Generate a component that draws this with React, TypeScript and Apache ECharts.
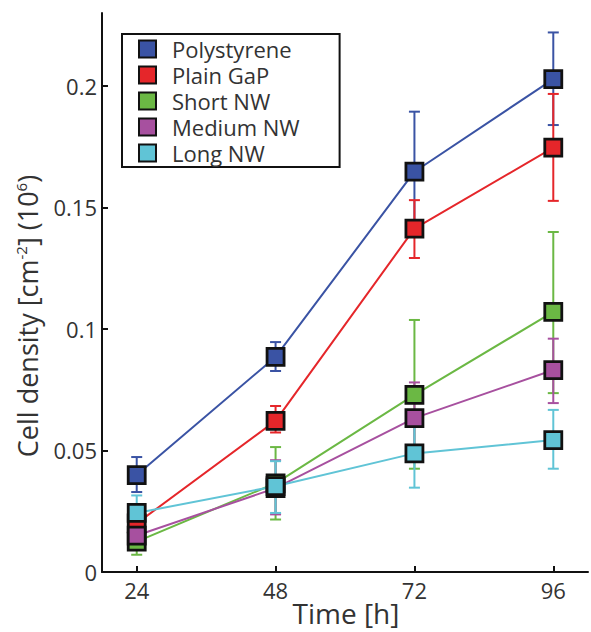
import React, { useEffect, useRef } from "react";
import * as echarts from "echarts";

const hours = [24, 48, 72, 96];
const seriesNames = ["Polystyrene", "Plain GaP", "Short NW", "Medium NW", "Long NW"];
const seriesColors = ["#3A53A4", "#E5262A", "#6BB844", "#A7509F", "#60C4D6"];

const polyMean = [0.0399, 0.0885, 0.1647, 0.2028];
const polyLow = [0.0329, 0.0827, 0.14, 0.1839];
const polyHigh = [0.0473, 0.0946, 0.1894, 0.222];

const gapMean = [0.02, 0.0622, 0.1413, 0.1746];
const gapLow = [0.017, 0.0574, 0.1292, 0.1527];
const gapHigh = [0.023, 0.0683, 0.153, 0.1967];

const shortMean = [0.0125, 0.0365, 0.0729, 0.107];
const shortLow = [0.0071, 0.0216, 0.0425, 0.0736];
const shortHigh = [0.018, 0.0514, 0.1037, 0.1399];

const mediumMean = [0.015, 0.0345, 0.0633, 0.0831];
const mediumLow = [0.012, 0.0237, 0.049, 0.0695];
const mediumHigh = [0.018, 0.046, 0.078, 0.096];

const longMean = [0.0243, 0.0353, 0.0488, 0.0543];
const longLow = [0.018, 0.0243, 0.0347, 0.0425];
const longHigh = [0.0315, 0.0456, 0.063, 0.0667];

const yTicks = [0, 0.05, 0.1, 0.15, 0.2];
const yTickLabels = ["0", "0.05", "0.1", "0.15", "0.2"];

const means = [polyMean, gapMean, shortMean, mediumMean, longMean];
const lows = [polyLow, gapLow, shortLow, mediumLow, longLow];
const highs = [polyHigh, gapHigh, shortHigh, mediumHigh, longHigh];

const FONT = "'Open Sans', 'Noto Sans', sans-serif";

export default function App() {
  const ref = useRef<HTMLDivElement>(null);
  useEffect(() => {
    document.body.style.margin = "0";
    const chart = echarts.init(ref.current!, null, { renderer: "svg" });
    const series: any[] = [];
    seriesNames.forEach((name, i) => {
      const color = seriesColors[i];
      series.push({
        name: name + " error",
        type: "custom",
        data: hours.map((h, j) => [h, lows[i][j], highs[i][j]]),
        encode: { x: 0, y: [1, 2] },
        renderItem: (params: any, api: any) => {
          const x = api.value(0);
          const top = api.coord([x, api.value(2)]);
          const bot = api.coord([x, api.value(1)]);
          const w = 5.5;
          const st = { stroke: color, lineWidth: 2 };
          return {
            type: "group",
            children: [
              { type: "line", shape: { x1: top[0], y1: top[1], x2: bot[0], y2: bot[1] }, style: st },
              { type: "line", shape: { x1: top[0] - w, y1: top[1], x2: top[0] + w, y2: top[1] }, style: st },
              { type: "line", shape: { x1: bot[0] - w, y1: bot[1], x2: bot[0] + w, y2: bot[1] }, style: st },
            ],
          };
        },
      });
      series.push({
        name,
        type: "line",
        data: hours.map((h, j) => [h, means[i][j]]),
        symbol: "rect",
        symbolSize: 17,
        lineStyle: { color, width: 2 },
        itemStyle: { color, borderColor: "#111", borderWidth: 2.8 },
      });
    });
    chart.setOption({
      animation: false,
      grid: { left: 102, right: 3, top: 13, bottom: 60 },
      legend: {
        data: seriesNames,
        orient: "vertical",
        left: 122,
        top: 34,
        icon: "rect",
        itemWidth: 17,
        itemHeight: 17,
        itemGap: 0,
        padding: [2, 40, 1, 16],
        borderColor: "#111",
        borderWidth: 2,
        backgroundColor: "#fff",
        itemStyle: { borderColor: "#111", borderWidth: 2 },
        textStyle: { fontFamily: FONT, fontSize: 22, lineHeight: 26, color: "#333", padding: [0, 0, 0, 11] },
      },
      xAxis: {
        type: "value",
        min: 18,
        max: 102,
        splitLine: { show: false },
        axisLine: { lineStyle: { color: "#111", width: 2 } },
        axisTick: { inside: true, length: 6, customValues: hours, lineStyle: { color: "#111", width: 2 } },
        axisLabel: { customValues: hours, fontFamily: FONT, fontSize: 22, color: "#333", margin: 7 },
      },
      yAxis: {
        type: "value",
        min: 0,
        max: 0.23,
        splitLine: { show: false },
        axisLine: { show: true, lineStyle: { color: "#111", width: 2 } },
        axisTick: { show: true, inside: true, length: 6, customValues: yTicks, lineStyle: { color: "#111", width: 2 } },
        axisLabel: {
          customValues: yTicks,
          formatter: (v: number) => yTickLabels[yTicks.findIndex((t) => Math.abs(t - v) < 1e-9)] ?? String(v),
          fontFamily: FONT,
          fontSize: 22,
          color: "#333",
          margin: 5,
        },
      },
      graphic: [
        {
          type: "text",
          x: 346,
          y: 613,
          style: {
            text: "Time [h]",
            fontFamily: FONT,
            fontSize: 28,
            fill: "#333",
            align: "center",
            verticalAlign: "middle",
          },
        },
        {
          type: "text",
          x: 27,
          y: 316,
          rotation: Math.PI / 2,
          style: {
            text: "Cell density [cm{sup|-2}] (10{sup|6})",
            fontFamily: FONT,
            fontSize: 27,
            fill: "#333",
            align: "center",
            verticalAlign: "middle",
            rich: {
              sup: { fontSize: 15, fill: "#333", fontFamily: FONT, verticalAlign: "top", padding: [0, 0, 12, 0] },
            },
          },
        },
      ],
      series,
    });
    return () => chart.dispose();
  }, []);
  return <div ref={ref} style={{ width: 591, height: 632 }} />;
}
